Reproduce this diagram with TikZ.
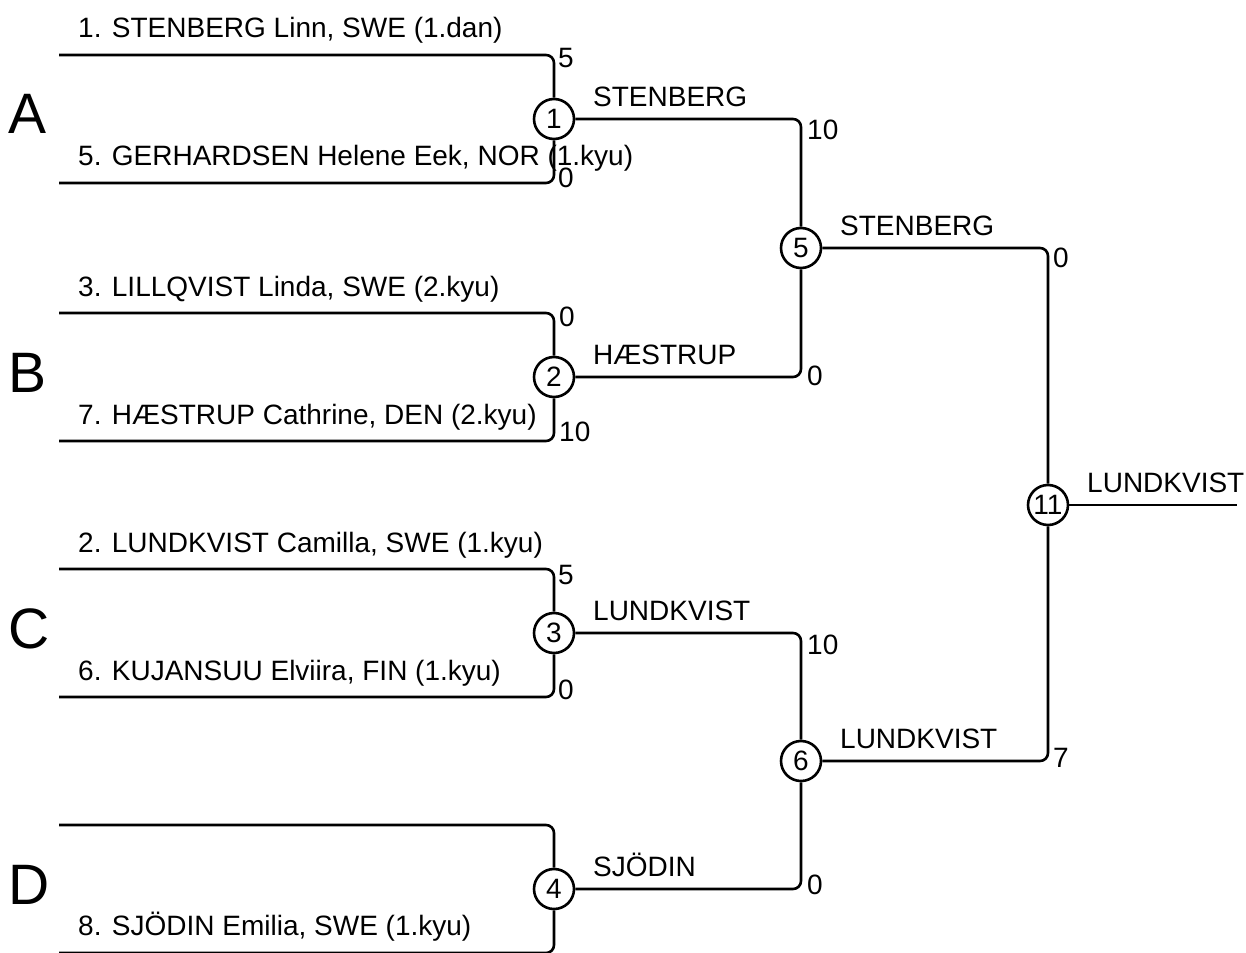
\documentclass[tikz,border=0pt]{standalone}
\usepackage{fontspec}
\setmainfont{Liberation Sans}
\begin{document}
\begin{tikzpicture}[x=1pt,y=-1pt,
  brline/.style={line width=2.6pt, rounded corners=8pt},
  boutc/.style={circle, draw, line width=2.6pt, minimum size=40pt, inner sep=0pt, font=\fontsize{28}{30}\selectfont},
  plabel/.style={anchor=base west, inner sep=0pt, font=\fontsize{28}{30}\selectfont},
  slabel/.style={anchor=west, inner sep=0pt, font=\fontsize{28}{30}\selectfont},
  poollabel/.style={anchor=base west, inner sep=0pt, font=\fontsize{57}{60}\selectfont}]
\useasboundingbox (0,0) rectangle (1246,952);
\clip (0,0) rectangle (1246,952);
% bout circles
\node[boutc] (c1) at (554,119) {1};
\node[boutc] (c2) at (554,377) {2};
\node[boutc] (c3) at (554,633) {3};
\node[boutc] (c4) at (554,889) {4};
\node[boutc] (c5) at (801,248) {5};
\node[boutc] (c6) at (801,761) {6};
\node[boutc] (c11) at (1048,505) {11};
% player line starts
\coordinate (p1) at (59,55);
\coordinate (p5) at (59,183);
\coordinate (p3) at (59,313);
\coordinate (p7) at (59,441);
\coordinate (p2) at (59,569);
\coordinate (p6) at (59,697);
\coordinate (pe) at (59,825);
\coordinate (p8) at (59,953);
\coordinate (fin) at (1237,505);
% connectors
\draw[brline] (p1) -| (c1);
\draw[brline] (p5) -| (c1);
\draw[brline] (p3) -| (c2);
\draw[brline] (p7) -| (c2);
\draw[brline] (p2) -| (c3);
\draw[brline] (p6) -| (c3);
\draw[brline] (pe) -| (c4);
\draw[brline] (p8) -| (c4);
\draw[brline] (c1) -| (c5);
\draw[brline] (c2) -| (c5);
\draw[brline] (c3) -| (c6);
\draw[brline] (c4) -| (c6);
\draw[brline] (c5) -| (c11);
\draw[brline] (c6) -| (c11);
\draw[brline] (c11) -- (fin);
% pool letters
\node[poollabel] (la) at (8,134) {A};
\node[poollabel] (lb) at (8,392) {B};
\node[poollabel] (lc) at (8,648) {C};
\node[poollabel] (ld) at (8,904) {D};
% names
\node[plabel] (n1) at (78,38) {1. STENBERG Linn, SWE (1.dan)};
\node[plabel] (n5) at (78,166) {5. GERHARDSEN Helene Eek, NOR (1.kyu)};
\node[plabel] (n3) at (78,296) {3. LILLQVIST Linda, SWE (2.kyu)};
\node[plabel] (n7) at (78,424) {7. HÆSTRUP Cathrine, DEN (2.kyu)};
\node[plabel] (n2) at (78,552) {2. LUNDKVIST Camilla, SWE (1.kyu)};
\node[plabel] (n6) at (78,680) {6. KUJANSUU Elviira, FIN (1.kyu)};
\node[plabel] (n8) at (78,935) {8. SJÖDIN Emilia, SWE (1.kyu)};
% winners
\node[plabel] (w1) at (593,107) {STENBERG};
\node[plabel] (w2) at (593,364) {HÆSTRUP};
\node[plabel] (w3) at (593,620) {LUNDKVIST};
\node[plabel] (w4) at (593,876) {SJÖDIN};
\node[plabel] (w5) at (840,235) {STENBERG};
\node[plabel] (w6) at (840,748) {LUNDKVIST};
\node[plabel] (w11) at (1087,492) {LUNDKVIST};
% scores
\node[slabel] (s1a) at (558,58) {5};
\node[slabel] (s1b) at (558,178) {0};
\node[slabel] (s2a) at (559,317) {0};
\node[slabel] (s2b) at (559,432) {10};
\node[slabel] (s3a) at (558,575) {5};
\node[slabel] (s3b) at (558,690) {0};
\node[slabel] (s5a) at (807,130) {10};
\node[slabel] (s5b) at (807,376) {0};
\node[slabel] (s6a) at (807,645) {10};
\node[slabel] (s6b) at (807,885) {0};
\node[slabel] (s11a) at (1053,258) {0};
\node[slabel] (s11b) at (1053,758) {7};
\end{tikzpicture}
\end{document}
